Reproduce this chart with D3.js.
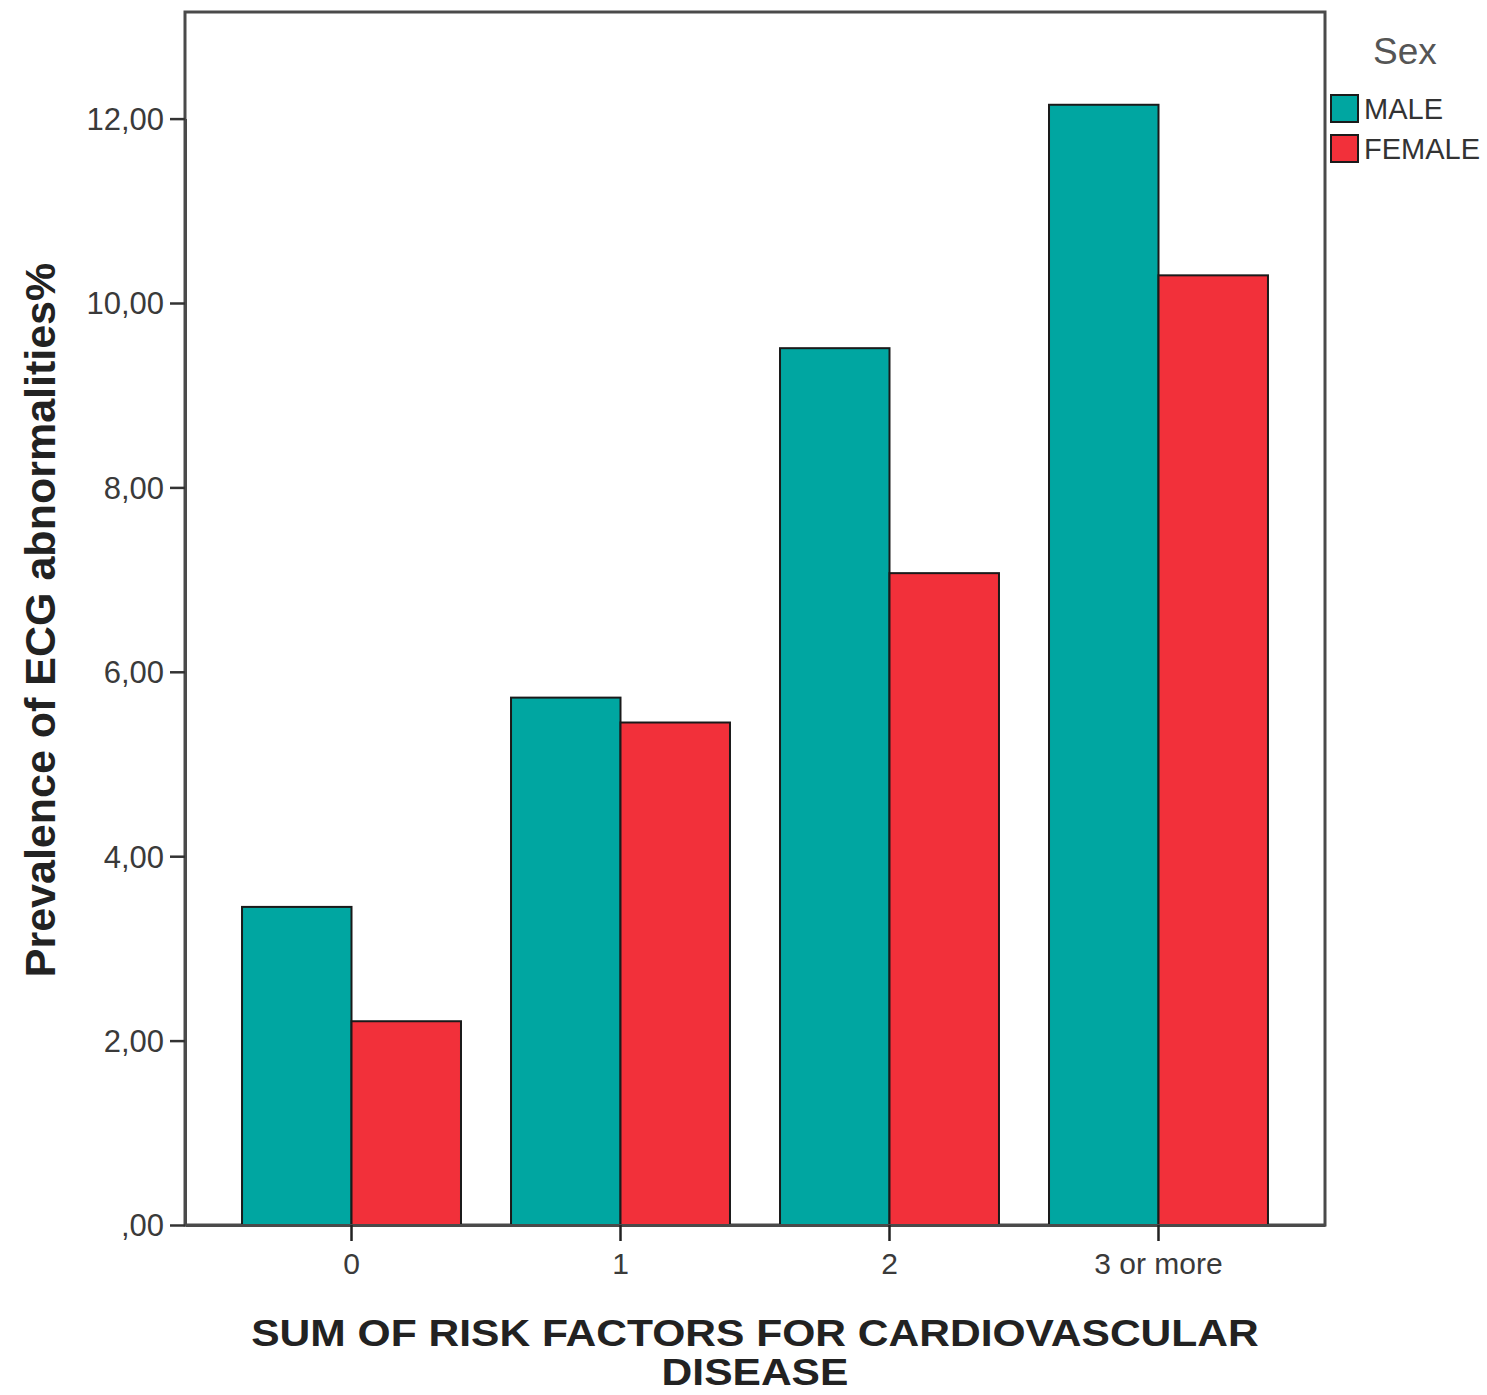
<!DOCTYPE html>
<html><head><meta charset="utf-8">
<script src="https://cdn.jsdelivr.net/npm/d3@7"></script>
<style>body{margin:0;background:#fff;} svg{display:block;font-family:"Liberation Sans",Arial,sans-serif;}</style>
</head><body>
<svg id="c" width="1487" height="1395"></svg>
<script>
const categories = ["0", "1", "2", "3 or more"];
const series = ["MALE", "FEMALE"];
const maleValues = [3.45, 5.72, 9.51, 12.15];
const femaleValues = [2.21, 5.45, 7.07, 10.30];
const yTicks = [0, 2, 4, 6, 8, 10, 12];
const colors = ["#00A6A1", "#F2303A"];

const svg = d3.select("#c");
const L = 185, R = 1325, T = 12, B = 1225;

const x = d3.scaleBand().domain(categories).range([L, R]).paddingInner(0.186).paddingOuter(0.212);
const xs = d3.scaleBand().domain(series).range([0, x.bandwidth()]);
const y = d3.scaleLinear().domain([0, 12]).range([B, B - 12 * 92.2]);

const data = categories.map((c, i) => ({cat: c, vals: [maleValues[i], femaleValues[i]]}));

// frame
svg.append("rect").attr("x", L).attr("y", T).attr("width", R - L).attr("height", B - T)
  .attr("fill", "#fff").attr("stroke", "#4a4a4a").attr("stroke-width", 3);

// bars
const g = svg.append("g");
data.forEach(d => {
  d.vals.forEach((v, j) => {
    g.append("rect")
      .attr("x", x(d.cat) + xs(series[j]))
      .attr("y", y(v))
      .attr("width", xs.bandwidth())
      .attr("height", y(0) - y(v))
      .attr("fill", colors[j])
      .attr("stroke", "#1a1a1a").attr("stroke-width", 2);
  });
});

// y axis
const yAxis = d3.axisLeft(y).tickValues(yTicks).tickSize(15).tickSizeOuter(0).tickPadding(6)
  .tickFormat(d => d === 0 ? ",00" : d3.format(".2f")(d).replace(".", ","));
const ya = svg.append("g").attr("transform", `translate(${L},0)`).call(yAxis);
ya.select(".domain").attr("stroke", "#4a4a4a").attr("stroke-width", 3);
ya.selectAll(".tick line").attr("stroke", "#333").attr("stroke-width", 2.5);
ya.selectAll(".tick text").attr("fill", "#3a3a3a").attr("font-size", 31).attr("dy", "0.35em");

// x axis
const xAxis = d3.axisBottom(x).tickSize(16).tickSizeOuter(0).tickPadding(12);
const xa = svg.append("g").attr("transform", `translate(0,${B})`).call(xAxis);
xa.select(".domain").attr("stroke", "#4a4a4a").attr("stroke-width", 3);
xa.selectAll(".tick line").attr("stroke", "#222").attr("stroke-width", 2.5);
xa.selectAll(".tick text").attr("fill", "#3a3a3a").attr("font-size", 30);

// axis titles
svg.append("text").attr("transform", "translate(55,620) rotate(-90)")
  .attr("text-anchor", "middle").attr("font-size", 43).attr("font-weight", "bold").attr("fill", "#222")
  .text("Prevalence of ECG abnormalities%");
const xt = svg.append("g").attr("transform", "translate(755,0) scale(1.15,1)");
xt.append("text").attr("x", 0).attr("y", 1346).attr("text-anchor", "middle")
  .attr("font-size", 37).attr("font-weight", "bold").attr("fill", "#222")
  .text("SUM OF RISK FACTORS FOR CARDIOVASCULAR");
xt.append("text").attr("x", 0).attr("y", 1385).attr("text-anchor", "middle")
  .attr("font-size", 37).attr("font-weight", "bold").attr("fill", "#222")
  .text("DISEASE");

// legend
svg.append("text").attr("x", 1405).attr("y", 64).attr("text-anchor", "middle")
  .attr("font-size", 37).attr("fill", "#555").text("Sex");
series.forEach((s, j) => {
  const yy = 95 + j * 40;
  svg.append("rect").attr("x", 1331).attr("y", yy).attr("width", 27).attr("height", 27)
    .attr("fill", colors[j]).attr("stroke", "#1a1a1a").attr("stroke-width", 2);
  svg.append("text").attr("x", 1364).attr("y", yy + 24).attr("font-size", 29)
    .attr("fill", "#333").text(s);
});
</script>
</body></html>
